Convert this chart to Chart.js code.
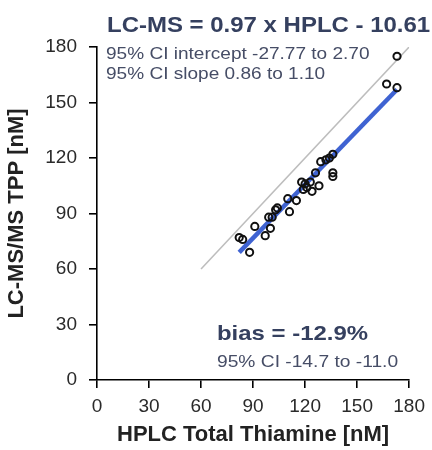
<!DOCTYPE html>
<html>
<head>
<meta charset="utf-8">
<script src="https://cdn.jsdelivr.net/npm/chart.js@4"></script>
<style>
  html, body { margin: 0; padding: 0; background: #fff; }
  #wrap { width: 432px; height: 450px; }
</style>
</head>
<body>
<div id="wrap"><canvas id="chart" width="432" height="450"></canvas></div>
<script>
// HPLC total thiamine vs LC-MS/MS TPP (nM)
const hplcValues = [82, 84, 88, 91, 97, 99, 100, 101, 103, 104, 110, 111, 115, 118, 119, 120, 121, 123, 124, 126, 128, 129, 132, 134, 136, 136, 136, 167, 173, 173];
const lcmsValues = [77, 76, 69, 83, 78, 88, 82, 88, 92, 93, 98, 91, 97, 107, 103, 106, 104, 107, 102, 112, 105, 118, 119, 120, 122, 112, 110, 160, 175, 158];

// Passing-Bablok fit line and line of identity (end points)
const fitX = [82, 173];
const fitY = [69, 157];
const identityX = [60, 180];
const identityY = [60, 180];

const xTicks = [0, 30, 60, 90, 120, 150, 180];
const yTicks = [0, 30, 60, 90, 120, 150, 180];

const titleText = 'LC-MS = 0.97 x HPLC - 10.61';
const ciLines = ['95% CI intercept -27.77 to 2.70', '95% CI slope 0.86 to 1.10'];
const biasText = 'bias = -12.9%';
const biasCiText = '95% CI -14.7 to -11.0';

const FONT = 'Arial, "Liberation Sans", sans-serif';

function toPoints(xs, ys) {
   return xs.map((x, i) => ({ x: x, y: ys[i] }));
}

// draws text a bit wider, like the stretched original
function wideText(ctx, text, x, y, font, color, sx) {
   ctx.save();
   ctx.font = font;
   ctx.fillStyle = color;
   ctx.textAlign = 'left';
   ctx.textBaseline = 'alphabetic';
   ctx.translate(x, y);
   ctx.scale(sx, 1);
   ctx.fillText(text, 0, 0);
   ctx.restore();
}

const notesPlugin = {
   id: 'notes',
   afterDraw(chart) {
      const ctx = chart.ctx;
      const area = chart.chartArea;
      wideText(ctx, titleText, area.left + 10, 32, `bold 22px ${FONT}`, '#35405f', 1.09);
      wideText(ctx, ciLines[0], area.left + 9, 59, `17px ${FONT}`, '#464d66', 1.12);
      wideText(ctx, ciLines[1], area.left + 9, 79, `17px ${FONT}`, '#464d66', 1.12);
      wideText(ctx, biasText, area.left + 120, 340, `bold 21px ${FONT}`, '#35405f', 1.14);
      wideText(ctx, biasCiText, area.left + 120, 367, `16px ${FONT}`, '#464d66', 1.2);
   }
};

const axisStyle = (title, ticks, pad) => ({
   type: 'linear',
   min: 0,
   max: 180,
   afterBuildTicks: s => { s.ticks = ticks.map(v => ({ value: v })); },
   border: { display: true, color: '#000', width: 1.6 },
   grid: { drawOnChartArea: false, drawTicks: true, tickLength: 8, color: '#000', lineWidth: 1.6 },
   ticks: { color: '#2a2a2a', font: { family: FONT, size: 19 }, padding: pad },
   title: {
      display: true,
      text: title,
      color: '#222',
      font: { family: FONT, size: 22, weight: 'bold' },
      padding: { top: 4, bottom: 2 }
   }
});

const xAxis = axisStyle('HPLC Total Thiamine [nM]', xTicks, 7);
xAxis.afterFit = s => { s.height = 70; };
const yAxis = axisStyle('LC-MS/MS TPP [nM]', yTicks, 12);
yAxis.afterFit = s => { s.width = 97; };

new Chart(document.getElementById('chart').getContext('2d'), {
   type: 'scatter',
   data: {
      datasets: [{
         label: 'Samples',
         data: toPoints(hplcValues, lcmsValues),
         pointStyle: 'circle',
         pointRadius: 3.6,
         borderWidth: 2,
         borderColor: '#111',
         backgroundColor: 'rgba(0,0,0,0)',
         order: 0
      }, {
         type: 'line',
         label: 'Fit',
         data: toPoints(fitX, fitY),
         borderColor: '#3f63d2',
         borderWidth: 4.5,
         pointRadius: 0,
         fill: false,
         order: 1
      }, {
         type: 'line',
         label: 'Identity',
         data: toPoints(identityX, identityY),
         borderColor: '#bdbdbd',
         borderWidth: 1.6,
         pointRadius: 0,
         fill: false,
         order: 2
      }]
   },
   options: {
      responsive: false,
      animation: false,
      layout: { padding: { top: 47, right: 21, left: 0, bottom: 0 } },
      plugins: {
         legend: { display: false },
         tooltip: { enabled: false }
      },
      scales: { x: xAxis, y: yAxis }
   },
   plugins: [notesPlugin]
});
</script>
</body>
</html>
